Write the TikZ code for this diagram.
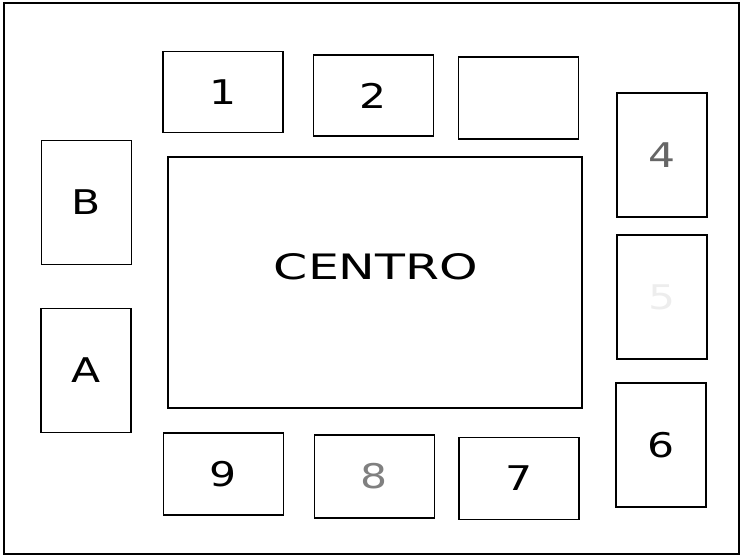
\documentclass[tikz,border=0pt]{standalone}
\usepackage{fontspec}
\newfontfamily\techfont[FakeStretch=1.25]{DejaVu Sans}
\newfontfamily\techwide[FakeStretch=1.4]{DejaVu Sans}
\usepackage{tikz}

\begin{document}
\begin{tikzpicture}[
    x=1pt, y=-1pt,
    font=\techfont\fontsize{34}{36}\selectfont,
    every node/.style={align=center},
    mesa/.style={draw, line width=1.9pt, inner sep=0pt},
    horiz/.style={mesa, minimum width=120pt, minimum height=81pt},
    vert/.style={mesa, minimum width=90pt, minimum height=124pt},
  ]
    \useasboundingbox (0,0) rectangle (742,557);

    % --- sala ---
    \node[mesa, minimum width=735pt, minimum height=551pt] (sala) at (371.5,278.5) {};

    % --- centro ---
    \node[mesa, minimum width=414pt, minimum height=251pt] (centro) at (375,282.5) {};
    \node[font=\techwide\fontsize{35}{37}\selectfont] (centrolbl) at (376,267) {CENTRO};

    % --- fila superior ---
    \node[horiz] (m1) at (223,92) {1};
    \node[horiz] (m2) at (373.5,95.5) {2};
    \node[horiz, minimum height=82pt] (m3) at (518.5,98) {};

    % --- lado derecho ---
    \node[vert, text=black!60] (m4) at (662,155) {4};
    \node[vert, text=black!7] (m5) at (662,297) {5};
    \node[vert] (m6) at (661,445) {6};

    % --- fila inferior ---
    \node[horiz, minimum height=82pt] (m7) at (519,478.5) {7};
    \node[horiz, minimum height=83pt, text=black!50] (m8) at (374.5,476.5) {8};
    \node[horiz, minimum height=82pt] (m9) at (223.5,474) {9};

    % --- lado izquierdo ---
    \node[vert] (mA) at (86,370.5) {A};
    \node[vert] (mB) at (86.5,202.5) {B};
  \end{tikzpicture}
\end{document}
